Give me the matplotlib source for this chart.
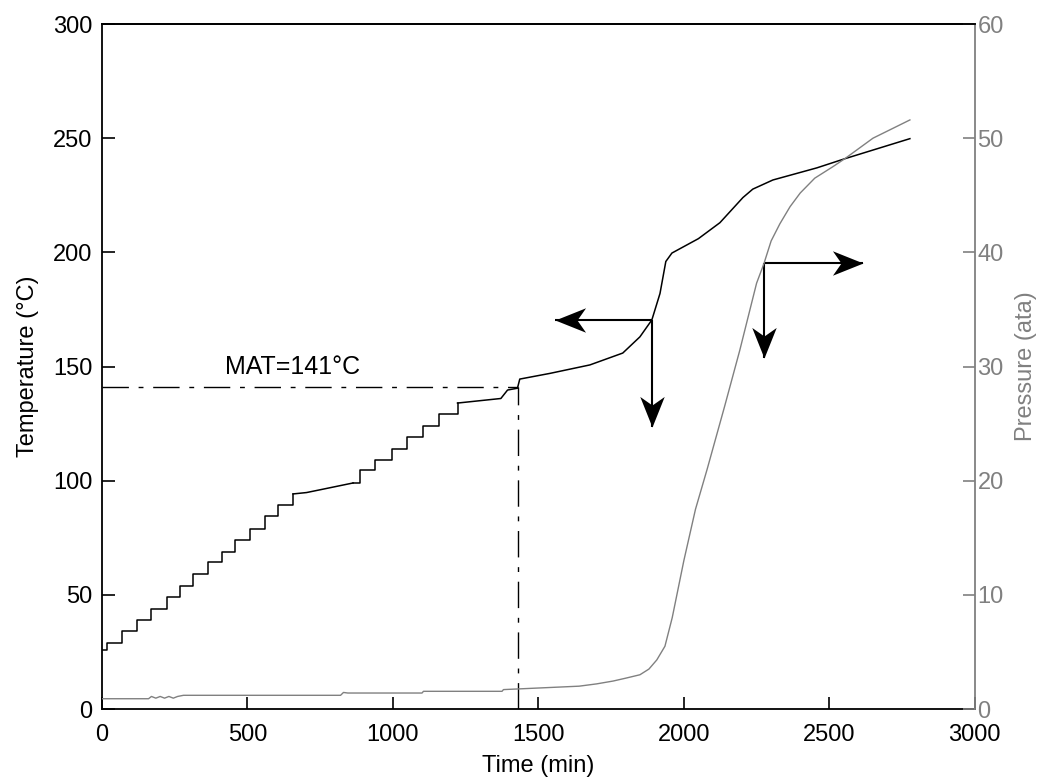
import numpy as np
import matplotlib
matplotlib.use("Agg")
import matplotlib.pyplot as plt
from matplotlib.path import Path
from matplotlib.markers import MarkerStyle
from matplotlib.transforms import Affine2D

# temperature record: first staircase (level held from each start time)
stair1_t = [0, 16, 70, 119, 170, 222, 268, 314, 365, 411, 457, 509, 560, 606, 657]
stair1_T = [26, 29, 34.3, 39, 44, 49.2, 53.9, 59, 64.4, 68.9, 74, 79, 84.5, 89.4, 94.2]

# slow drift between the two staircases
drift_t = [657, 703, 749, 863]
drift_T = [94.2, 94.8, 96, 99]

# second staircase
stair2_t = [863, 887, 938, 996, 1050, 1102, 1159, 1222]
stair2_T = [99, 104.7, 109, 114, 119, 124, 129.2, 134]

# temperature record after the staircases
temp_t = [1222, 1371, 1394, 1428, 1436, 1540, 1677, 1790, 1849, 1890, 1918, 1938, 1959,
          2050, 2124, 2203, 2237, 2306, 2457, 2553, 2777]
temp_T = [134, 136, 139.7, 140.5, 144.5, 147, 150.7, 155.9, 163, 170.4, 182, 196, 199.7,
          206, 213, 224, 227.7, 231.7, 237, 241, 249.8]

# pressure record
pres_t = [0, 160, 170, 185, 200, 215, 230, 245, 260, 280, 820, 830, 845, 1100, 1105,
          1375, 1380, 1510, 1640, 1700, 1757, 1800, 1849, 1880, 1907, 1935, 1960, 2000,
          2040, 2080, 2140, 2192, 2250, 2275, 2300, 2330, 2365, 2400, 2450, 2512, 2553,
          2650, 2777]
pres_P = [0.9, 0.9, 1.1, 0.95, 1.1, 0.95, 1.1, 0.95, 1.1, 1.2, 1.2, 1.45, 1.4, 1.4, 1.55,
          1.55, 1.7, 1.85, 2.0, 2.2, 2.45, 2.7, 3.0, 3.5, 4.3, 5.5, 8, 13,
          17.5, 21, 26.5, 31.4, 37.3, 39, 41, 42.5, 44, 45.2, 46.5, 47.5, 48.2,
          50, 51.6]

mat_t = 1430
mat_T = 141

gray = '#808080'
plt.rcParams['font.family'] = ['Liberation Sans', 'DejaVu Sans']
plt.rcParams['font.size'] = 17

# notched arrow head, tip at the origin, pointing along +x
head_path = Path([(0, 0), (-1, 0.4), (-0.72, 0), (-1, -0.4), (0, 0)],
                 [Path.MOVETO, Path.LINETO, Path.LINETO, Path.LINETO, Path.CLOSEPOLY])


def arrow(a, x0, y0, x1, y1, angle):
    a.plot([x0, x1], [y0, y1], color='k', lw=1.5, solid_capstyle='butt')
    m = MarkerStyle(head_path, transform=Affine2D().rotate_deg(angle))
    a.plot([x1], [y1], marker=m, markersize=44, color='k', markeredgewidth=0)


fig = plt.figure(figsize=(10.44, 7.83), dpi=100)
ax = fig.add_axes([0.0977, 0.0945, 0.836, 0.8748])
ax2 = ax.twinx()

ax.plot(stair1_t, stair1_T, color='k', lw=1.1, drawstyle='steps-post')
ax.plot(drift_t, drift_T, color='k', lw=1.1)
ax.plot(stair2_t, stair2_T, color='k', lw=1.1, drawstyle='steps-post')
ax.plot(temp_t, temp_T, color='k', lw=1.1)
ax2.plot(pres_t, pres_P, color=gray, lw=1.0)

# MAT marker lines
dashdot = (0, (19, 7, 3.5, 7))
ax.plot([0, mat_t], [mat_T, mat_T], color='k', lw=1.0, linestyle=dashdot)
ax.plot([mat_t, mat_t], [0, mat_T], color='k', lw=1.0, linestyle=dashdot)
ax.text(423, 150, 'MAT=%d\u00b0C' % mat_T, fontsize=18, ha='left', va='center')

# arrows pointing to the axis each curve belongs to
arrow(ax, 1890, 170.4, 1557, 170.4, 180)
arrow(ax, 1890, 170.4, 1890, 123.5, -90)
arrow(ax, 2275, 195.3, 2615, 195.3, 0)
arrow(ax, 2275, 195.3, 2275, 153.7, -90)

ax.set_xlim(0, 3000)
ax.set_ylim(0, 300)
ax2.set_ylim(0, 60)
ax.set_xticks(np.arange(0, 3001, 500))
ax.set_yticks(np.arange(0, 301, 50))
ax2.set_yticks(np.arange(0, 61, 10))

ax.tick_params(direction='in', length=9, width=1.2, top=False, right=False)
ax.tick_params(axis='x', pad=11)
ax.tick_params(axis='y', pad=7)
ax2.tick_params(direction='in', length=9, width=1.2, colors=gray, labelcolor=gray, pad=2)

for s in ['left', 'bottom', 'top']:
    ax.spines[s].set_linewidth(1.3)
ax2.spines['right'].set_color(gray)
ax2.spines['right'].set_linewidth(1.3)
ax2.spines['top'].set_linewidth(1.3)
ax2.spines['left'].set_visible(False)
ax2.spines['bottom'].set_visible(False)
ax.spines['right'].set_visible(False)

ax.set_xlabel('Time (min)', fontsize=17, labelpad=6)
ax.set_ylabel('Temperature (\u00b0C)', fontsize=17, labelpad=10)
ax2.set_ylabel('Pressure (ata)', fontsize=17, color=gray, labelpad=8)

fig.savefig('out.png', dpi=100)
